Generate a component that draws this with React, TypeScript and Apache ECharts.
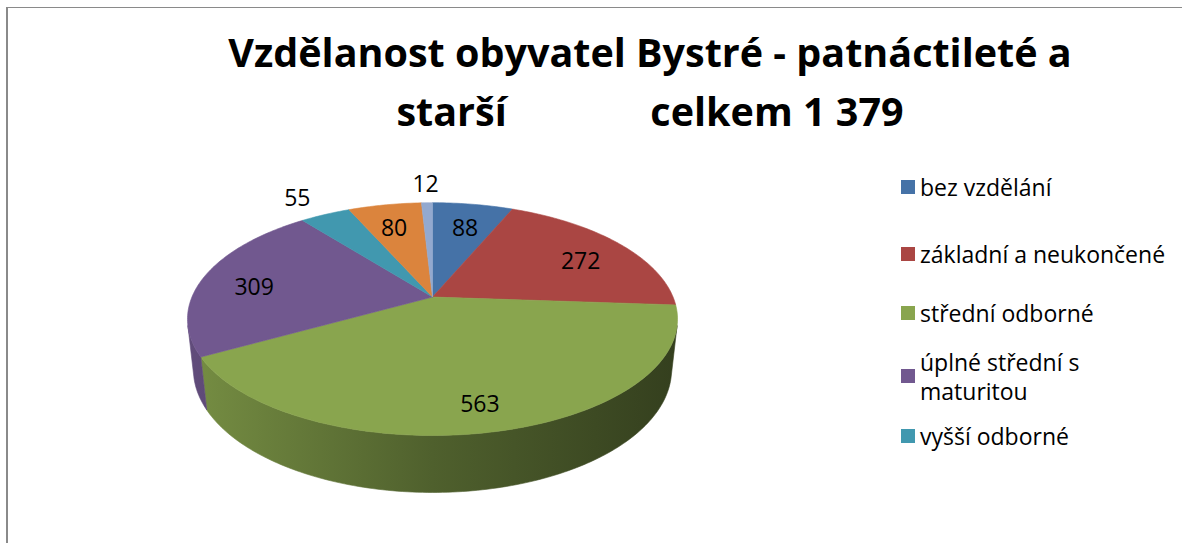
import React, { useEffect, useRef } from 'react';
import * as echarts from 'echarts';

// ---------- data ----------
const CATEGORIES = [
  'bez vzdělání',
  'základní a neukončené',
  'střední odborné',
  'úplné střední s maturitou',
  'vyšší odborné',
  'vysokoškolské',
  'nezjištěno',
];
const VALUES = [88, 272, 563, 309, 55, 80, 12];
const COLORS = ['#4572A7', '#AA4643', '#89A54E', '#71588F', '#4198AF', '#DB843D', '#93A9CF'];
const LEGEND_VISIBLE = 5;
const TITLE_LINE1 = 'Vzdělanost obyvatel Bystré - patnáctileté a';
const TITLE_LINE2 = 'starší              celkem 1 379';

// ---------- 3D pie projection (style) ----------
const CX = 432.5;
const CY = 297;
const TILT = (27.8 * Math.PI) / 180;
const CT = Math.cos(TILT);
const ST = Math.sin(TILT);
const DIST = 4.66;
const FOCAL = 1121;
const DEPTH = 0.239;
const LABEL_LEVEL = -0.025;
const FONT = '"Open Sans", Lato, sans-serif';

const project = (x: number, yUp: number, z: number): number[] => {
  const yc = yUp * CT - z * ST;
  const zc = z * CT + yUp * ST;
  const k = FOCAL / (DIST - zc);
  return [CX + x * k, CY - yc * k];
};

const TOTAL = VALUES.reduce((a, b) => a + b, 0);
const STARTS = VALUES.map((_, i) => VALUES.slice(0, i).reduce((a, b) => a + b, 0));
const toAngle = (cum: number) => -Math.PI / 2 + (2 * Math.PI * cum) / TOTAL;

const VIS_MIN = Math.asin(1 / (DIST * CT));
const VIS_MAX = Math.PI - VIS_MIN;
const X_LEFT = project(Math.cos(VIS_MAX), 0, Math.sin(VIS_MAX))[0];
const X_RIGHT = project(Math.cos(VIS_MIN), 0, Math.sin(VIS_MIN))[0];

const shade = (hex: string, f: number) => {
  const n = parseInt(hex.slice(1), 16);
  const r = Math.round(((n >> 16) & 255) * f);
  const g = Math.round(((n >> 8) & 255) * f);
  const b = Math.round((n & 255) * f);
  return `rgb(${r},${g},${b})`;
};

const arcPoints = (a0: number, a1: number, yUp: number) => {
  const steps = Math.max(2, Math.ceil(((a1 - a0) * 180) / Math.PI));
  const pts: number[][] = [];
  for (let s = 0; s <= steps; s++) {
    const t = a0 + ((a1 - a0) * s) / steps;
    pts.push(project(Math.cos(t), yUp, Math.sin(t)));
  }
  return pts;
};

const makeRenderItem = (idx: number) => (params: any, api: any) => {
  const value = api.value(0);
  const a0 = toAngle(STARTS[idx]);
  const a1 = toAngle(STARTS[idx] + value);
  const color = COLORS[idx];
  const children: any[] = [];

  const w0 = Math.max(a0, VIS_MIN);
  const w1 = Math.min(a1, VIS_MAX);
  if (w1 > w0) {
    const topPts = arcPoints(w0, w1, 0);
    const botPts = arcPoints(w0, w1, -DEPTH).reverse();
    const grad = new echarts.graphic.LinearGradient(
      X_LEFT, 0, X_RIGHT, 0,
      [
        { offset: 0, color: shade(color, 0.86) },
        { offset: 0.5, color: shade(color, 0.58) },
        { offset: 1, color: shade(color, 0.38) },
      ],
      true
    );
    children.push({
      type: 'polygon',
      shape: { points: topPts.concat(botPts) },
      style: { fill: grad, stroke: grad, lineWidth: 0.6 },
    });
  }

  const top = [project(0, 0, 0)].concat(arcPoints(a0, a1, 0));
  children.push({
    type: 'polygon',
    shape: { points: top },
    style: { fill: color, stroke: color, lineWidth: 0.6 },
  });

  const mid = (a0 + a1) / 2;
  const outside = value / TOTAL < 0.05;
  const r = outside ? 1.32 : 0.78;
  const [lx, ly] = project(r * Math.cos(mid), LABEL_LEVEL, r * Math.sin(mid));
  children.push({
    type: 'text',
    z2: 10,
    style: {
      text: String(value),
      x: lx,
      y: ly,
      align: 'center',
      verticalAlign: 'middle',
      fontSize: 23,
      fontFamily: FONT,
      fill: '#000',
    },
  });
  return { type: 'group', children };
};

const LEGEND_ROW_CENTERS = [187, 254, 313, 376, 436];
const LEGEND_LINE = 29;

export default function App() {
  const ref = useRef<HTMLDivElement>(null);
  useEffect(() => {
    if (!ref.current) return;
    const chart = echarts.init(ref.current, undefined, { renderer: 'svg' });
    const wrap = (n: string) => (n.length > 22 ? n.replace(/ (\S+)$/, '\n$1') : n);
    const legends = CATEGORIES.slice(0, LEGEND_VISIBLE).map((name, i) => {
      const twoLine = wrap(name) !== name;
      return {
        data: [name],
        orient: 'vertical',
        left: 901,
        top: LEGEND_ROW_CENTERS[i] - (twoLine ? LEGEND_LINE * 1.5 : LEGEND_LINE / 2),
        padding: 0,
        itemWidth: 14,
        itemHeight: 14,
        icon: 'rect',
        selectedMode: false,
        formatter: wrap,
        textStyle: {
          fontSize: 23,
          lineHeight: LEGEND_LINE,
          fontFamily: FONT,
          color: '#000',
          padding: twoLine ? [LEGEND_LINE, 0, 0, 0] : 0,
        },
      };
    });
    chart.setOption({
      animation: false,
      backgroundColor: '#fff',
      title: {
        text: TITLE_LINE1 + '\n' + TITLE_LINE2,
        left: 645,
        top: 17,
        textAlign: 'center',
        textStyle: {
          fontFamily: FONT,
          fontWeight: 'bold',
          fontSize: 39.5,
          lineHeight: 59,
          color: '#000',
        },
      },
      legend: legends,
      graphic: [
        { type: 'line', shape: { x1: 7, y1: 7.5, x2: 1182, y2: 7.5 }, style: { stroke: '#8a8a8a', lineWidth: 1 } },
        { type: 'line', shape: { x1: 7, y1: 7, x2: 7, y2: 543 }, style: { stroke: '#8a8a8a', lineWidth: 2 } },
      ],
      series: CATEGORIES.map((name, i) => ({
        type: 'custom',
        name,
        coordinateSystem: 'none',
        itemStyle: { color: COLORS[i] },
        data: [VALUES[i]],
        renderItem: makeRenderItem(i),
      })),
    });
    return () => chart.dispose();
  }, []);
  return (
    <div
      ref={ref}
      style={{ position: 'fixed', left: 0, top: 0, width: 1182, height: 543 }}
    />
  );
}
